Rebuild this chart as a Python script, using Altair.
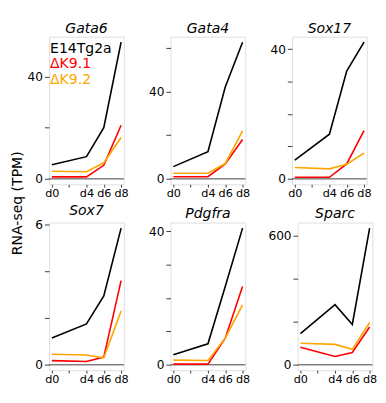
import json
import altair as alt
import pandas as pd

FONT = "DejaVu Sans"

days = [0, 4, 6, 8]
x_tick_values = [0, 2, 4, 6, 8]
x_tick_labels = ["d0", "", "d4", "d6", "d8"]
series = ["E14Tg2a", "ΔK9.1", "ΔK9.2"]
series_colors = ["#000000", "#FF0000", "#FFA500"]
genes = ["Gata6", "Gata4", "Sox17", "Sox7", "Pdgfra", "Sparc"]

gata6_e14 = [5.5, 8.7, 20.0, 53.5]
gata6_k91 = [0.8, 0.8, 5.3, 21.0]
gata6_k92 = [3.0, 2.8, 6.3, 16.2]

gata4_e14 = [5.6, 12.4, 42.0, 62.5]
gata4_k91 = [1.0, 1.0, 6.8, 18.0]
gata4_k92 = [2.6, 2.6, 7.0, 22.0]

sox17_e14 = [5.8, 13.8, 33.3, 42.2]
sox17_k91 = [0.5, 0.5, 4.6, 14.9]
sox17_k92 = [3.5, 3.1, 4.5, 8.0]

sox7_e14 = [1.15, 1.75, 2.95, 5.85]
sox7_k91 = [0.18, 0.14, 0.33, 3.6]
sox7_k92 = [0.45, 0.42, 0.30, 2.3]

pdgfra_e14 = [3.0, 6.3, 23.5, 41.0]
pdgfra_k91 = [0.2, 0.2, 8.0, 23.5]
pdgfra_k92 = [1.4, 1.3, 8.0, 18.0]

sparc_e14 = [145, 280, 188, 636]
sparc_k91 = [82, 39, 57, 176]
sparc_k92 = [100, 95, 72, 197]

gata6_yticks, gata6_ylabels = [0, 20, 40], [0, 40]
gata4_yticks, gata4_ylabels = [0, 20, 40, 60], [0, 40]
sox17_yticks, sox17_ylabels = [0, 10, 20, 30, 40], [0, 40]
sox7_yticks, sox7_ylabels = [0, 2, 4, 6], [0, 6]
pdgfra_yticks, pdgfra_ylabels = [0, 10, 20, 30, 40], [0, 40]
sparc_yticks, sparc_ylabels = [0, 200, 400, 600], [0, 600]

FRAME = "#333333"
W, H = 80, 158


def panel(gene, e14, k91, k92, yticks, ylabels, with_legend=False):
    rows = []
    for name, vals in zip(series, [e14, k91, k92]):
        for d, v in zip(days, vals):
            rows.append({"day": d, "value": v, "series": name})
    df = pd.DataFrame(rows)
    vmax = max(e14 + k91 + k92)
    ydom = [-0.04 * vmax, 1.04 * vmax]
    xr = max(days) - min(days)
    xdom = [min(days) - 0.04 * xr, max(days) + 0.04 * xr]

    xs = alt.Scale(domain=xdom, nice=False, zero=False)
    ys = alt.Scale(domain=ydom, nice=False, zero=False)
    xaxis = alt.Axis(
        values=x_tick_values,
        labelExpr=f"{json.dumps(x_tick_labels)}[indexof({json.dumps(x_tick_values)}, datum.value)]",
        title=None, grid=False, domain=False, tickSize=3, tickColor=FRAME,
        labelPadding=1, labelFontSize=12, labelFont=FONT, labelColor="black",
        labelFlush=False, labelOverlap=False, minExtent=16, maxExtent=16,
    )
    yaxis = alt.Axis(
        values=yticks,
        labelExpr=f"indexof({json.dumps(ylabels)}, datum.value) >= 0 ? datum.label : ''",
        title=None, grid=False, domain=False, tickSize=5, tickColor=FRAME,
        labelPadding=2, labelFontSize=13, labelFont=FONT, labelColor="black",
        labelFlush=False, labelOverlap=False, minExtent=26, maxExtent=26,
    )

    zero = alt.Chart(pd.DataFrame({"value": [0]})).mark_rule(
        color=FRAME, strokeWidth=1
    ).encode(y=alt.Y("value:Q", scale=ys, axis=yaxis))

    lines = alt.Chart(df).mark_line(strokeWidth=1.7).encode(
        x=alt.X("day:Q", scale=xs, axis=xaxis),
        y=alt.Y("value:Q", scale=ys, axis=yaxis),
        color=alt.Color("series:N", scale=alt.Scale(domain=series, range=series_colors), legend=None),
    )
    layers = [zero, lines]
    if with_legend:
        for i, (name, col) in enumerate(zip(series, series_colors)):
            layers.append(
                alt.Chart(pd.DataFrame({"label": [name]})).mark_text(
                    align="left", baseline="middle", fontSize=15, font=FONT, color=col
                ).encode(text="label:N", x=alt.value(1), y=alt.value(12 + 16.7 * i))
            )
    return alt.layer(*layers).properties(
        width=W, height=H,
        title=alt.TitleParams(gene, fontSize=15, font=FONT, fontStyle="italic",
                              fontWeight="normal", offset=1.5, anchor="middle", color="black"),
    )


p1 = panel(genes[0], gata6_e14, gata6_k91, gata6_k92, gata6_yticks, gata6_ylabels, True)
p2 = panel(genes[1], gata4_e14, gata4_k91, gata4_k92, gata4_yticks, gata4_ylabels)
p3 = panel(genes[2], sox17_e14, sox17_k91, sox17_k92, sox17_yticks, sox17_ylabels)
p4 = panel(genes[3], sox7_e14, sox7_k91, sox7_k92, sox7_yticks, sox7_ylabels)
p5 = panel(genes[4], pdgfra_e14, pdgfra_k91, pdgfra_k92, pdgfra_yticks, pdgfra_ylabels)
p6 = panel(genes[5], sparc_e14, sparc_k91, sparc_k92, sparc_yticks, sparc_ylabels)

row1 = alt.hconcat(p1, alt.hconcat(p2, p3, spacing=17), spacing=17)
row2 = alt.hconcat(p4, alt.hconcat(p5, p6, spacing=17), spacing=17)

chart = alt.vconcat(row1, row2, spacing=3).properties(
    title=alt.TitleParams("RNA-seq (TPM)", orient="left", anchor="middle", fontSize=15,
                          font=FONT, fontWeight="normal", offset=0, color="black"),
    padding={"left": 2, "top": 0, "right": 0, "bottom": 0},
).configure_view(stroke=FRAME, strokeWidth=1).configure(font=FONT)

chart.save("out.html", embed_options={"renderer": "svg", "actions": False})
